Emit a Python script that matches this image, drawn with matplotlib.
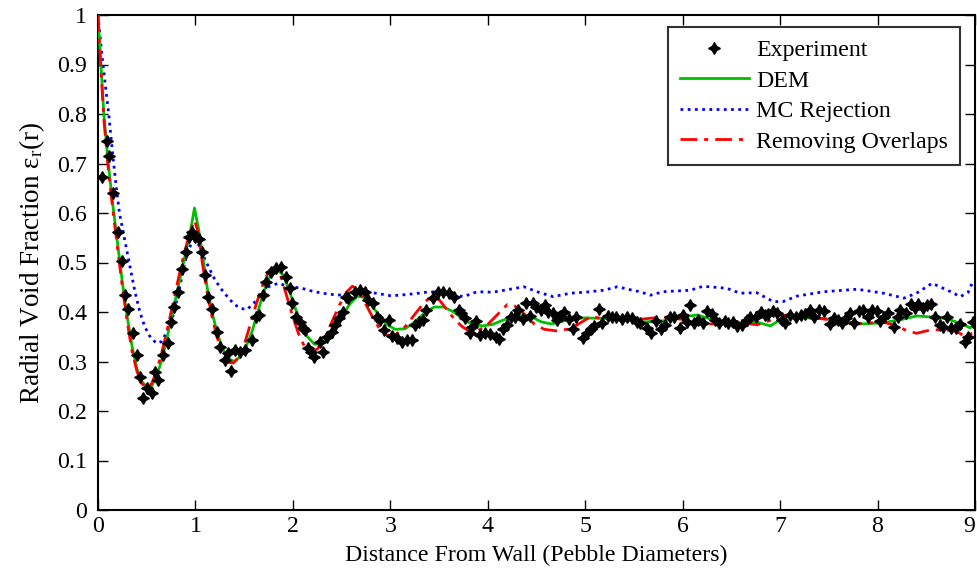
import matplotlib
matplotlib.use("Agg")
import matplotlib.pyplot as plt

plt.rcParams['font.family'] = ['Liberation Serif', 'DejaVu Serif']
plt.rcParams['mathtext.fontset'] = 'custom'
plt.rcParams['mathtext.rm'] = 'Liberation Serif'
plt.rcParams['mathtext.it'] = 'Liberation Serif:italic'

# ---------------- data ----------------
exp_x = [0.038, 0.089, 0.113, 0.157, 0.202, 0.243, 0.277, 0.311, 0.362, 0.397, 0.431, 0.465, 0.50, 0.55,
         0.585, 0.619, 0.67, 0.715, 0.749, 0.783, 0.818, 0.859, 0.90, 0.934, 0.968, 0.996, 1.037, 1.065,
         1.10, 1.13, 1.17, 1.22, 1.25, 1.30, 1.33, 1.37, 1.41, 1.46, 1.51, 1.58, 1.62, 1.65, 1.69, 1.72,
         1.78, 1.83, 1.88, 1.93, 1.97, 1.99, 2.03, 2.07, 2.10, 2.125, 2.16, 2.19, 2.22, 2.28, 2.31, 2.35,
         2.40, 2.43, 2.47, 2.51, 2.54, 2.57, 2.64, 2.69, 2.74, 2.775, 2.82, 2.86, 2.895, 2.93, 2.99, 3.015,
         3.07, 3.12, 3.17, 3.22, 3.255, 3.29, 3.34, 3.37, 3.44, 3.49, 3.545, 3.60, 3.65, 3.70, 3.73, 3.77,
         3.82, 3.84, 3.88, 3.92, 3.97, 4.02, 4.08, 4.12, 4.16, 4.196, 4.24, 4.28, 4.315, 4.36, 4.39, 4.435,
         4.46, 4.50, 4.545, 4.59, 4.62, 4.67, 4.71, 4.74, 4.78, 4.83, 4.87, 4.91, 4.98, 5.02, 5.06, 5.09,
         5.14, 5.17, 5.23, 5.27, 5.32, 5.38, 5.43, 5.48, 5.53, 5.56, 5.63, 5.68, 5.73, 5.78, 5.82, 5.87,
         5.91, 5.97, 6.00, 6.04, 6.08, 6.12, 6.16, 6.21, 6.25, 6.30, 6.33, 6.37, 6.43, 6.47, 6.52, 6.56,
         6.61, 6.66, 6.69, 6.75, 6.80, 6.84, 6.88, 6.93, 6.97, 7.02, 7.05, 7.10, 7.16, 7.21, 7.26, 7.31,
         7.35, 7.40, 7.45, 7.51, 7.55, 7.59, 7.635, 7.68, 7.72, 7.755, 7.81, 7.85, 7.90, 7.94, 7.99, 8.03,
         8.07, 8.11, 8.17, 8.21, 8.23, 8.29, 8.34, 8.38, 8.42, 8.47, 8.51, 8.55, 8.59, 8.64, 8.67, 8.71,
         8.75, 8.80, 8.85, 8.90, 8.93, 8.98]
exp_y = [0.673, 0.745, 0.715, 0.641, 0.562, 0.504, 0.434, 0.406, 0.358, 0.313, 0.269, 0.226, 0.246, 0.236,
         0.279, 0.263, 0.313, 0.338, 0.380, 0.411, 0.441, 0.486, 0.522, 0.552, 0.562, 0.552, 0.547, 0.522,
         0.475, 0.431, 0.407, 0.360, 0.330, 0.303, 0.318, 0.281, 0.323, 0.320, 0.323, 0.343, 0.390, 0.394,
         0.434, 0.461, 0.481, 0.488, 0.490, 0.471, 0.448, 0.418, 0.390, 0.380, 0.367, 0.364, 0.327, 0.320,
         0.310, 0.340, 0.320, 0.350, 0.360, 0.374, 0.387, 0.400, 0.431, 0.428, 0.441, 0.444, 0.441, 0.424,
         0.419, 0.390, 0.384, 0.364, 0.384, 0.351, 0.347, 0.340, 0.343, 0.343, 0.374, 0.380, 0.384, 0.405,
         0.428, 0.441, 0.441, 0.438, 0.431, 0.404, 0.397, 0.387, 0.357, 0.370, 0.382, 0.354, 0.357, 0.355,
         0.350, 0.345, 0.365, 0.374, 0.390, 0.389, 0.405, 0.385, 0.419, 0.392, 0.419, 0.411, 0.404, 0.414,
         0.400, 0.397, 0.384, 0.392, 0.400, 0.385, 0.365, 0.389, 0.347, 0.357, 0.365, 0.372, 0.407, 0.377,
         0.392, 0.390, 0.389, 0.385, 0.389, 0.387, 0.380, 0.378, 0.367, 0.357, 0.382, 0.365, 0.374, 0.389,
         0.389, 0.367, 0.394, 0.380, 0.414, 0.377, 0.384, 0.378, 0.403, 0.396, 0.384, 0.377, 0.382, 0.377,
         0.380, 0.372, 0.374, 0.384, 0.389, 0.389, 0.400, 0.394, 0.396, 0.403, 0.397, 0.384, 0.377, 0.394,
         0.389, 0.394, 0.396, 0.404, 0.390, 0.405, 0.403, 0.376, 0.387, 0.384, 0.378, 0.387, 0.397, 0.378,
         0.403, 0.404, 0.390, 0.405, 0.403, 0.382, 0.390, 0.397, 0.369, 0.390, 0.404, 0.397, 0.416, 0.408,
         0.417, 0.409, 0.414, 0.417, 0.390, 0.374, 0.369, 0.390, 0.367, 0.367, 0.376, 0.340, 0.349, 0.380]

dem_x = [0.00, 0.03, 0.06, 0.10, 0.15, 0.20, 0.25, 0.30, 0.35, 0.40, 0.45, 0.50, 0.55, 0.60, 0.65, 0.70,
         0.75, 0.80, 0.85, 0.90, 0.95, 0.99, 1.03, 1.07, 1.12, 1.17, 1.22, 1.28, 1.34, 1.40, 1.46, 1.52,
         1.58, 1.64, 1.70, 1.76, 1.84, 1.90, 1.96, 2.02, 2.08, 2.15, 2.22, 2.28, 2.35, 2.42, 2.50, 2.58,
         2.66, 2.72, 2.80, 2.88, 2.96, 3.05, 3.15, 3.25, 3.35, 3.45, 3.55, 3.65, 3.75, 3.85, 3.95, 4.05,
         4.15, 4.25, 4.35, 4.45, 4.55, 4.65, 4.75, 4.85, 5.0, 5.2, 5.4, 5.6, 5.8, 6.0, 6.15, 6.3, 6.45,
         6.6, 6.75, 6.9, 7.05, 7.25, 7.45, 7.65, 7.85, 8.05, 8.25, 8.4, 8.55, 8.7, 8.85, 8.95, 9.0]
dem_y = [1.00, 0.90, 0.80, 0.71, 0.62, 0.54, 0.46, 0.39, 0.33, 0.285, 0.26, 0.248, 0.25, 0.27, 0.30, 0.34,
         0.385, 0.43, 0.475, 0.52, 0.565, 0.61, 0.57, 0.52, 0.45, 0.40, 0.36, 0.325, 0.305, 0.300, 0.31, 0.33,
         0.36, 0.40, 0.44, 0.47, 0.485, 0.475, 0.445, 0.41, 0.38, 0.35, 0.335, 0.335, 0.345, 0.365, 0.39, 0.415,
         0.432, 0.43, 0.415, 0.395, 0.375, 0.365, 0.366, 0.38, 0.398, 0.41, 0.41, 0.40, 0.385, 0.374, 0.372, 0.375,
         0.383, 0.39, 0.393, 0.39, 0.38, 0.376, 0.38, 0.387, 0.388, 0.387, 0.384, 0.38, 0.382, 0.39, 0.394, 0.385, 0.377,
         0.378, 0.38, 0.372, 0.39, 0.388, 0.387, 0.38, 0.376, 0.378, 0.385, 0.392, 0.39, 0.387, 0.377, 0.368, 0.375]

mc_x = [0.00, 0.04, 0.08, 0.11, 0.15, 0.18, 0.22, 0.28, 0.33, 0.38, 0.43, 0.48, 0.54, 0.60, 0.65, 0.70,
        0.76, 0.81, 0.86, 0.91, 0.96, 1.01, 1.06, 1.10, 1.15, 1.20, 1.27, 1.34, 1.40, 1.47, 1.53, 1.60,
        1.68, 1.76, 1.85, 1.95, 2.09, 2.20, 2.30, 2.46, 2.60, 2.72, 2.85, 3.00, 3.10, 3.25, 3.41, 3.55,
        3.75, 3.89, 4.05, 4.20, 4.37, 4.52, 4.67, 4.85, 5.00, 5.19, 5.33, 5.46, 5.56, 5.67, 5.80, 6.08,
        6.21, 6.45, 6.59, 6.76, 6.93, 7.03, 7.17, 7.45, 7.79, 8.06, 8.27, 8.40, 8.56, 8.65, 8.75, 8.85,
        8.93, 8.97, 9.0]
mc_y = [1.00, 0.92, 0.85, 0.80, 0.72, 0.665, 0.60, 0.54, 0.49, 0.44, 0.40, 0.37, 0.348, 0.337, 0.34, 0.357,
        0.385, 0.424, 0.47, 0.515, 0.54, 0.545, 0.525, 0.505, 0.485, 0.465, 0.445, 0.428, 0.415, 0.407, 0.405, 0.418,
        0.438, 0.452, 0.458, 0.452, 0.448, 0.442, 0.438, 0.434, 0.437, 0.441, 0.438, 0.433, 0.434, 0.437, 0.441, 0.438,
        0.431, 0.441, 0.44, 0.445, 0.451, 0.44, 0.431, 0.438, 0.44, 0.444, 0.451, 0.445, 0.441, 0.434, 0.441, 0.444,
        0.452, 0.448, 0.438, 0.439, 0.421, 0.421, 0.432, 0.441, 0.446, 0.438, 0.428, 0.438, 0.458, 0.45, 0.441, 0.431,
        0.44, 0.458, 0.46]

ro_x = [0.00, 0.03, 0.06, 0.10, 0.15, 0.20, 0.25, 0.30, 0.35, 0.40, 0.45, 0.50, 0.55, 0.60, 0.65, 0.70,
        0.75, 0.80, 0.85, 0.90, 0.95, 0.99, 1.03, 1.07, 1.12, 1.17, 1.22, 1.28, 1.34, 1.39, 1.45, 1.51,
        1.57, 1.63, 1.70, 1.76, 1.82, 1.88, 1.94, 2.00, 2.06, 2.12, 2.18, 2.25, 2.32, 2.40, 2.48, 2.55,
        2.61, 2.67, 2.75, 2.83, 2.91, 2.98, 3.06, 3.15, 3.25, 3.35, 3.43, 3.50, 3.58, 3.66, 3.74, 3.82,
        3.90, 4.00, 4.10, 4.20, 4.28, 4.38, 4.48, 4.58, 4.70, 4.85, 4.95, 5.05, 5.25, 5.5, 5.8, 6.0,
        6.2, 6.4, 6.56, 6.76, 6.9, 7.0, 7.2, 7.4, 7.6, 7.8, 8.05, 8.2, 8.3, 8.4, 8.55, 8.7, 8.82, 8.9, 9.0]
ro_y = [1.00, 0.89, 0.79, 0.70, 0.61, 0.53, 0.45, 0.38, 0.32, 0.28, 0.255, 0.248, 0.255, 0.28, 0.315, 0.355,
        0.40, 0.445, 0.49, 0.53, 0.565, 0.585, 0.56, 0.50, 0.44, 0.39, 0.35, 0.315, 0.298, 0.297, 0.31, 0.34,
        0.38, 0.42, 0.46, 0.485, 0.49, 0.47, 0.43, 0.39, 0.355, 0.33, 0.32, 0.325, 0.345, 0.38, 0.415, 0.44,
        0.452, 0.445, 0.415, 0.385, 0.36, 0.352, 0.355, 0.37, 0.395, 0.42, 0.432, 0.425, 0.405, 0.385, 0.37, 0.36,
        0.362, 0.375, 0.395, 0.415, 0.412, 0.395, 0.375, 0.365, 0.362, 0.366, 0.378, 0.39, 0.386, 0.384, 0.39, 0.385,
        0.374, 0.378, 0.38, 0.374, 0.383, 0.394, 0.39, 0.387, 0.382, 0.376, 0.38, 0.372, 0.362, 0.357, 0.364, 0.364,
        0.36, 0.35, 0.36]

x_ticks = [0, 1, 2, 3, 4, 5, 6, 7, 8, 9]
x_tick_labels = ['0', '1', '2', '3', '4', '5', '6', '7', '8', '9']
y_ticks = [0, 0.1, 0.2, 0.3, 0.4, 0.5, 0.6, 0.7, 0.8, 0.9, 1]
y_tick_labels = ['0', '0.1', '0.2', '0.3', '0.4', '0.5', '0.6', '0.7', '0.8', '0.9', '1']

FS = 17.2

# ---------------- plot ----------------
fig = plt.figure(figsize=(9.78, 5.70), dpi=100)
ax = fig.add_axes([98 / 978, 1 - 510 / 570, (975 - 98) / 978, (510 - 15) / 570])

star4 = (4, 1, 0)
ax.plot(exp_x, exp_y, linestyle='none', marker=star4, markersize=8.5, color='black',
        markerfacecolor='black', label='Experiment', zorder=5)
ax.plot(dem_x, dem_y, color='#00c000', lw=2.0, linestyle='-', label='DEM', zorder=3)
ax.plot(mc_x, mc_y, color='#0000ff', lw=2.0, linestyle=(0, (1, 1.6)), label='MC Rejection', zorder=2)
ax.plot(ro_x, ro_y, color='#ff0000', lw=2.0, linestyle=(0, (6, 2.5, 1.5, 2.5)),
        label='Removing Overlaps', zorder=4)

ax.set_xlim(0, 9)
ax.set_ylim(0, 1)
ax.set_xticks(x_ticks)
ax.set_xticklabels(x_tick_labels)
ax.set_yticks(y_ticks)
ax.set_yticklabels(y_tick_labels)
ax.tick_params(direction='in', length=7, width=1.0, top=True, right=True, labelsize=FS)
ax.tick_params(axis='y', pad=8)
ax.tick_params(axis='x', pad=4)
ax.get_xticklabels()[-1].set_horizontalalignment('right')
for s in ax.spines.values():
    s.set_linewidth(1.5)

ax.set_xlabel('Distance From Wall (Pebble Diameters)', fontsize=FS, labelpad=6)
ax.set_ylabel('Radial Void Fraction ε$_\\mathregular{r}$(r)', fontsize=19.5, labelpad=7)

leg = ax.legend(loc='upper right', fontsize=FS, frameon=True, fancybox=False,
                edgecolor='black', handlelength=2.9, handletextpad=0.3, labelspacing=0.37,
                borderpad=0.5, bbox_to_anchor=(0.983, 0.975), borderaxespad=0)
leg.get_frame().set_linewidth(1.5)

fig.savefig('out.png', dpi=100)
